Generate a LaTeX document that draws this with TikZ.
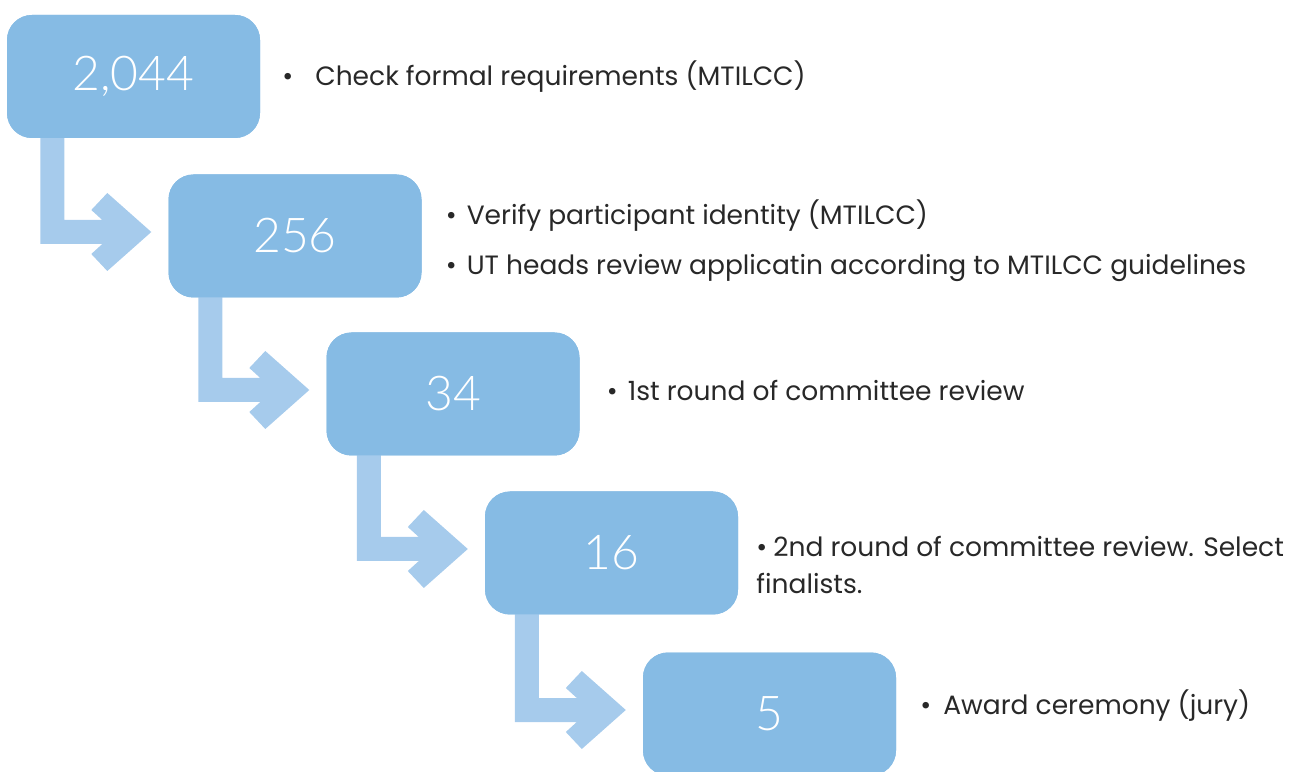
\documentclass[tikz,border=0pt]{standalone}
\usepackage{fontspec}
\setmainfont{Poppins}[Ligatures=NoCommon]
\newfontfamily\numfont{Lato Light}
\usetikzlibrary{positioning,calc}
\definecolor{boxblue}{RGB}{134,187,228}
\definecolor{flowblue}{RGB}{166,203,236}
\definecolor{notegray}{RGB}{40,40,40}
\begin{document}
\begin{tikzpicture}[x=1pt, y=1pt,
        stage/.style={fill=boxblue, rounded corners=25pt, minimum width=253pt, minimum height=123pt,
            text=white, font=\numfont\fontsize{48}{54}\selectfont},
        flow/.style={fill=flowblue},
        note/.style={text=notegray, font=\fontsize{26.5}{37}\selectfont, inner sep=0pt, align=left}]
        \useasboundingbox (0,0) rectangle (1292,771);
        \coordinate (c1) at (133.5,694.5);
        \coordinate (c2) at (295,535);
        \coordinate (c3) at (453,377);
        \coordinate (c4) at (611.5,218);
        \coordinate (c5) at (769.5,57);
        % elbow arrows go under the boxes
        \path (c1) node[stage] (box1) {} (c2) node[stage] (box2) {} (c3) node[stage] (box3) {}
            (c4) node[stage] (box4) {} (c5) node[stage] (box5) {};
        \foreach \a/\b in {box1/box2, box2/box3, box3/box4, box4/box5} {
            \coordinate (tip) at ($(\b.west)+(-17,4)$);
            \fill[flow] (tip) -- ++(-44,39) -- ++(-16,-17) -- ++(11,-10) -- ++(-38,0) coordinate (bar)
                -- (bar |- \a.center) -- ++(-24,0) |- ($(tip)+(-49,-12)$) -- ++(-11,-10) -- ++(16,-17) -- cycle;
        }
        \node[stage] at (c1) {2,044};
        \node[stage] at (c2) {256};
        \node[stage] at (c3) {34};
        \node[stage] at (c4) {16};
        \node[stage] at (c5) {5};
        \node[note, right=22pt of box1] (note1) {•\hspace{22pt}Check formal requirements (MTILCC)};
        \node[note, right=24pt of box2, yshift=20pt] (note2a) {•\hspace{10pt}Verify participant identity (MTILCC)};
        \node[note, right=24pt of box2, yshift=-32pt] (note2b) {•\hspace{10pt}UT heads review applicatin according to MTILCC guidelines};
        \node[note, right=27pt of box3, yshift=4pt] (note3) {•\hspace{10pt}1st round of committee review};
        \node[note, right=18pt of box4, yshift=-11.5pt] (note4) {•\hspace{6pt}2nd round of committee review. Select\\finalists.};
        \node[note, right=24pt of box5, yshift=8pt] (note5) {•\hspace{12pt}Award ceremony (jury)};
    \end{tikzpicture}
\end{document}
